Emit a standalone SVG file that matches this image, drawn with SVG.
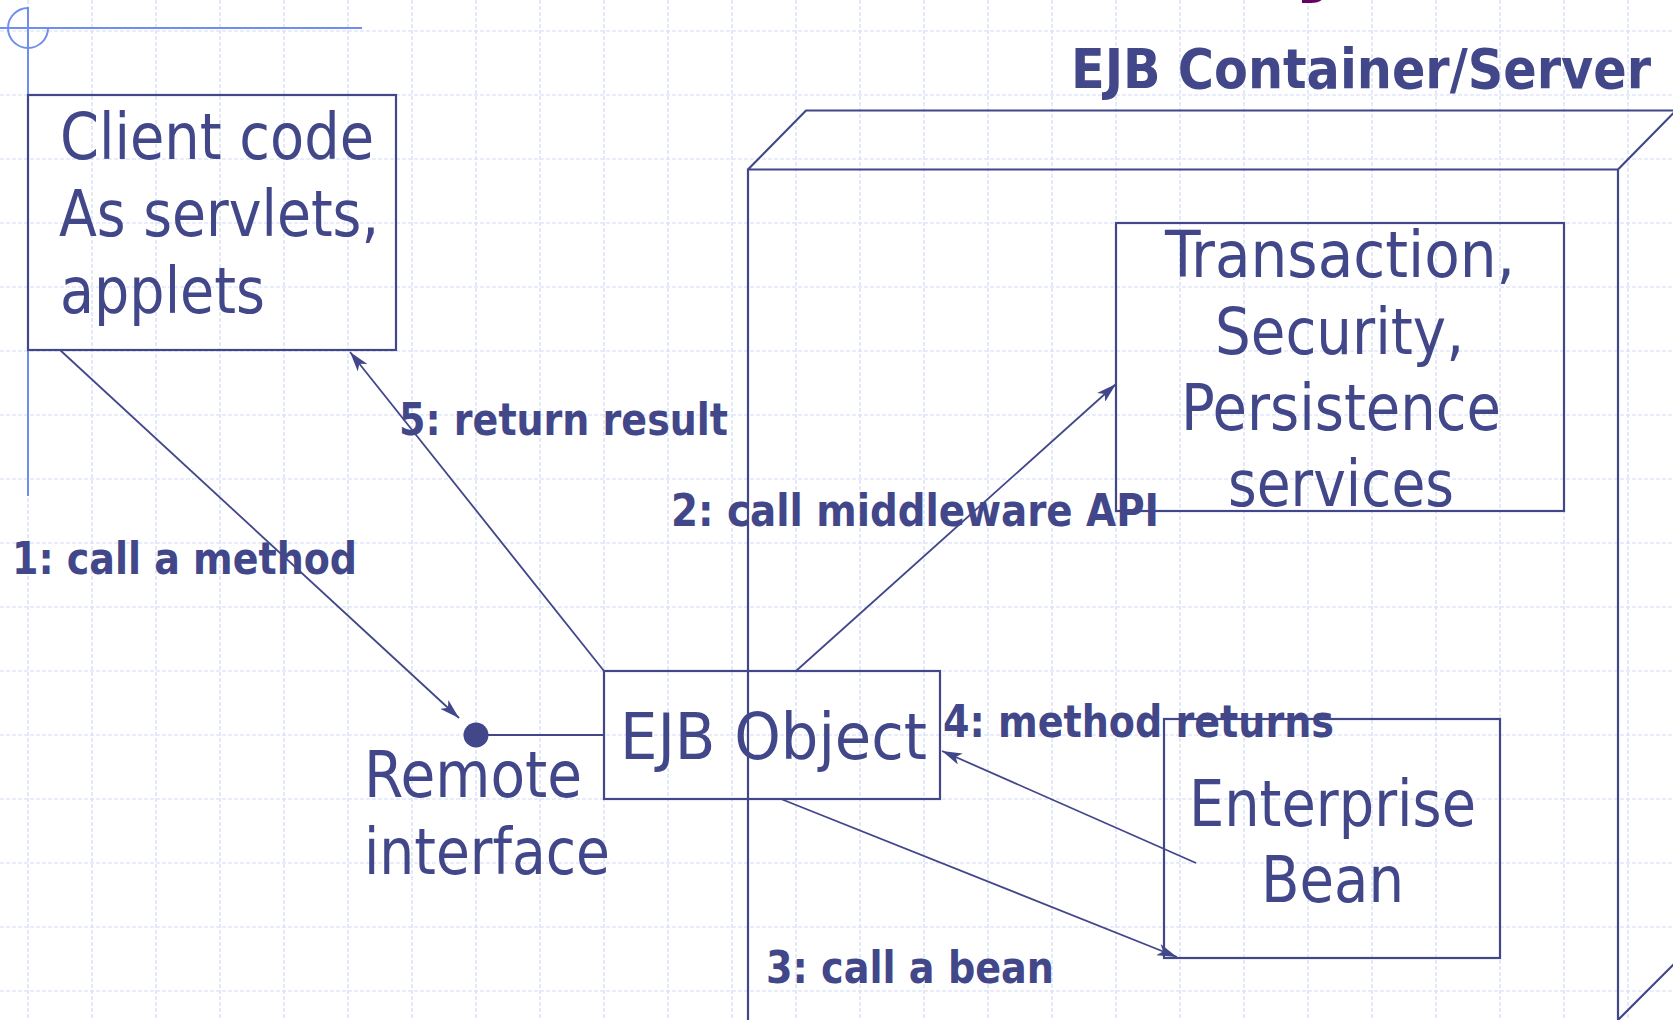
<svg xmlns="http://www.w3.org/2000/svg" width="1673" height="1020" viewBox="0 0 1673 1020">
<style>
.grid line{stroke:#d3dbf7;stroke-width:1.2;stroke-dasharray:4 2}
.box{fill:none;stroke:#414789;stroke-width:2.2}
.con{fill:none;stroke:#414789;stroke-width:1.8}
.cross{fill:none;stroke:#6f8eee;stroke-width:2}
.t{font-family:"DejaVu Sans Condensed","DejaVu Sans","Liberation Sans",sans-serif;font-size:64px;fill:#414789}
.lbl{font-family:"DejaVu Sans Condensed","DejaVu Sans","Liberation Sans",sans-serif;font-size:44px;font-weight:bold;fill:#414789}
.title{font-family:"DejaVu Sans Condensed","DejaVu Sans","Liberation Sans",sans-serif;font-size:55px;font-weight:bold;fill:#414789}
</style>
<defs>
<marker id="arr" markerUnits="userSpaceOnUse" viewBox="0 0 20 12" refX="20" refY="6" markerWidth="20" markerHeight="12" orient="auto">
<path d="M0,0 L20,6 L0,12 L5,6 z" fill="#414789"/>
</marker>
</defs>
<rect width="1673" height="1020" fill="#ffffff"/>
<g class="grid">
<line x1="28" y1="0" x2="28" y2="1020"/><line x1="92" y1="0" x2="92" y2="1020"/><line x1="156" y1="0" x2="156" y2="1020"/><line x1="220" y1="0" x2="220" y2="1020"/><line x1="284" y1="0" x2="284" y2="1020"/><line x1="348" y1="0" x2="348" y2="1020"/><line x1="412" y1="0" x2="412" y2="1020"/><line x1="476" y1="0" x2="476" y2="1020"/><line x1="540" y1="0" x2="540" y2="1020"/><line x1="604" y1="0" x2="604" y2="1020"/><line x1="668" y1="0" x2="668" y2="1020"/><line x1="732" y1="0" x2="732" y2="1020"/><line x1="796" y1="0" x2="796" y2="1020"/><line x1="860" y1="0" x2="860" y2="1020"/><line x1="924" y1="0" x2="924" y2="1020"/><line x1="988" y1="0" x2="988" y2="1020"/><line x1="1052" y1="0" x2="1052" y2="1020"/><line x1="1116" y1="0" x2="1116" y2="1020"/><line x1="1180" y1="0" x2="1180" y2="1020"/><line x1="1244" y1="0" x2="1244" y2="1020"/><line x1="1308" y1="0" x2="1308" y2="1020"/><line x1="1372" y1="0" x2="1372" y2="1020"/><line x1="1436" y1="0" x2="1436" y2="1020"/><line x1="1500" y1="0" x2="1500" y2="1020"/><line x1="1564" y1="0" x2="1564" y2="1020"/><line x1="1628" y1="0" x2="1628" y2="1020"/>
<line x1="0" y1="31" x2="1673" y2="31"/><line x1="0" y1="95" x2="1673" y2="95"/><line x1="0" y1="159" x2="1673" y2="159"/><line x1="0" y1="223" x2="1673" y2="223"/><line x1="0" y1="287" x2="1673" y2="287"/><line x1="0" y1="351" x2="1673" y2="351"/><line x1="0" y1="415" x2="1673" y2="415"/><line x1="0" y1="479" x2="1673" y2="479"/><line x1="0" y1="543" x2="1673" y2="543"/><line x1="0" y1="607" x2="1673" y2="607"/><line x1="0" y1="671" x2="1673" y2="671"/><line x1="0" y1="735" x2="1673" y2="735"/><line x1="0" y1="799" x2="1673" y2="799"/><line x1="0" y1="863" x2="1673" y2="863"/><line x1="0" y1="927" x2="1673" y2="927"/><line x1="0" y1="991" x2="1673" y2="991"/>
</g>
<g id="crosshair">
<line class="cross" x1="0" y1="28" x2="362" y2="28"/>
<line class="cross" x1="28" y1="7" x2="28" y2="496"/>
<path class="cross" d="M28,8 A20,20 0 1 0 48,28"/>
</g>
<text x="1293" y="-17" font-family="'DejaVu Sans',sans-serif" font-size="90" font-weight="bold" fill="#660066">y</text>
<g id="container">
<text class="title" x="1071" y="88" textLength="580" lengthAdjust="spacingAndGlyphs">EJB Container/Server</text>
<path class="box" d="M748,1022 L748,169.5 L1618,169.5 L1618,1022 M748,169.5 L806,110.5 L1676,110.5 M1618,169.5 L1676,110.5 M1618,1020 L1676,962"/>
</g>
<g id="client">
<rect class="box" x="28" y="95" width="368" height="255"/>
<text class="t" x="60" y="159" textLength="314" lengthAdjust="spacingAndGlyphs">Client code</text>
<text class="t" x="59" y="236" textLength="320" lengthAdjust="spacingAndGlyphs">As servlets,</text>
<text class="t" x="60" y="313" textLength="205" lengthAdjust="spacingAndGlyphs">applets</text>
</g>
<g id="services">
<rect class="box" x="1116" y="223" width="448" height="288"/>
<text class="t" x="1165" y="277" textLength="350" lengthAdjust="spacingAndGlyphs">Transaction,</text>
<text class="t" x="1215" y="354" textLength="249" lengthAdjust="spacingAndGlyphs">Security,</text>
<text class="t" x="1181" y="430" textLength="320" lengthAdjust="spacingAndGlyphs">Persistence</text>
<text class="t" x="1228" y="506" textLength="226" lengthAdjust="spacingAndGlyphs">services</text>
</g>
<g id="ejbobject">
<rect class="box" x="604" y="671" width="336" height="128"/>
<text class="t" x="620" y="759" textLength="307" lengthAdjust="spacingAndGlyphs">EJB Object</text>
</g>
<g id="remote">
<circle cx="476" cy="735" r="12.5" fill="#414789"/>
<text class="t" x="364" y="797" textLength="218" lengthAdjust="spacingAndGlyphs">Remote</text>
<text class="t" x="364" y="874" textLength="246" lengthAdjust="spacingAndGlyphs">interface</text>
</g>
<g id="bean">
<rect class="box" x="1164" y="719" width="336" height="239"/>
<text class="t" x="1189" y="826" textLength="287" lengthAdjust="spacingAndGlyphs">Enterprise</text>
<text class="t" x="1261" y="902" textLength="143" lengthAdjust="spacingAndGlyphs">Bean</text>
</g>
<g id="connectors">
<line class="con" x1="60" y1="350" x2="459" y2="718" marker-end="url(#arr)"/>
<line class="con" x1="604" y1="671" x2="350" y2="352" marker-end="url(#arr)"/>
<line class="con" x1="796" y1="671" x2="1116" y2="384" marker-end="url(#arr)"/>
<line class="con" x1="781" y1="799" x2="1177" y2="957" marker-end="url(#arr)"/>
<line class="con" x1="1196" y1="863" x2="942" y2="751" marker-end="url(#arr)"/>
<line class="con" x1="488" y1="735" x2="604" y2="735"/>
<text class="lbl" x="399" y="435" textLength="329" lengthAdjust="spacingAndGlyphs">5: return result</text>
<text class="lbl" x="12" y="574" textLength="345" lengthAdjust="spacingAndGlyphs">1: call a method</text>
<text class="lbl" x="671" y="526" textLength="488" lengthAdjust="spacingAndGlyphs">2: call middleware API</text>
<text class="lbl" x="943" y="737" textLength="391" lengthAdjust="spacingAndGlyphs">4: method returns</text>
<text class="lbl" x="766" y="983" textLength="288" lengthAdjust="spacingAndGlyphs">3: call a bean</text>
</g>
</svg>
